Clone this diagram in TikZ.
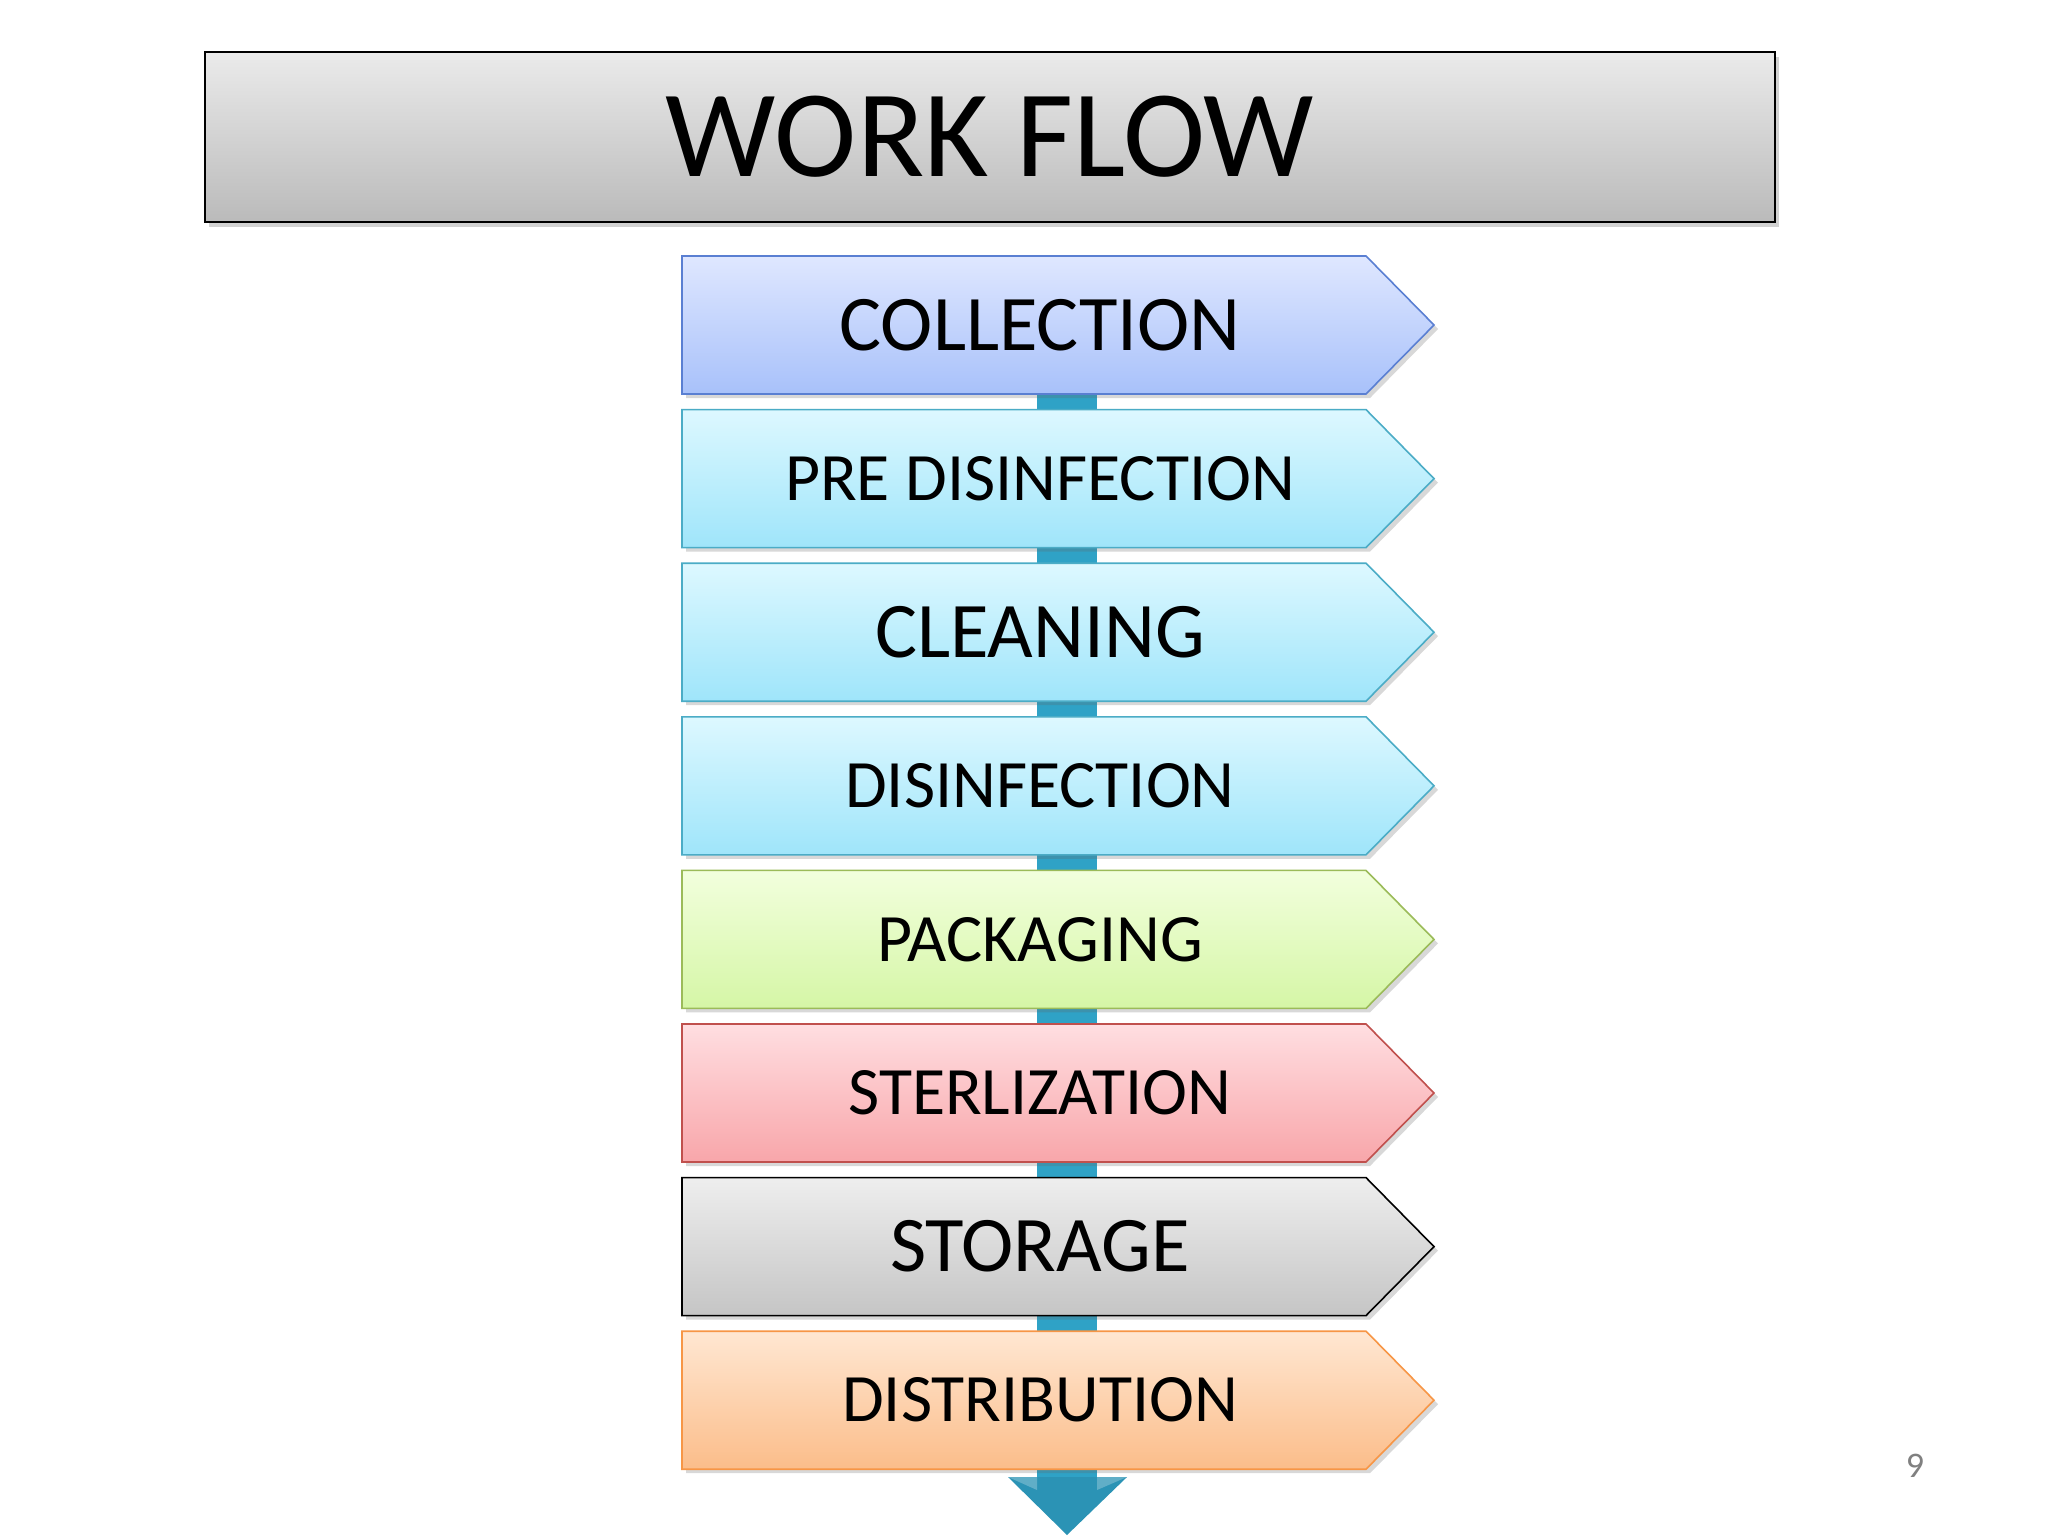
\documentclass[tikz,border=0pt]{standalone}
\usepackage{fontspec}
\setmainfont{Carlito}
\usetikzlibrary{shadows}
\definecolor{barcol}{HTML}{2FA2C6}
\definecolor{barhead}{HTML}{2B93B5}
\definecolor{bluetop}{HTML}{DFE7FF}
\definecolor{bluebot}{HTML}{A8C1FA}
\definecolor{blueln}{HTML}{5A7FD2}
\definecolor{aquatop}{HTML}{DDF8FF}
\definecolor{aquabot}{HTML}{9FE5FA}
\definecolor{aqualn}{HTML}{4BACC6}
\definecolor{greentop}{HTML}{F2FFDD}
\definecolor{greenbot}{HTML}{D5F6A6}
\definecolor{greenln}{HTML}{9BBB59}
\definecolor{redtop}{HTML}{FFDEE1}
\definecolor{redbot}{HTML}{F8A6AA}
\definecolor{redln}{HTML}{C0504D}
\definecolor{graytop}{HTML}{EEEEEE}
\definecolor{graybot}{HTML}{C5C5C5}
\definecolor{orangetop}{HTML}{FFE7D2}
\definecolor{orangebot}{HTML}{FBBD8A}
\definecolor{orangeln}{HTML}{F79646}
\tikzset{
  boxline/.style={line width=0.8pt, drop shadow={shadow xshift=2pt, shadow yshift=-2pt, opacity=0.25, fill=black!60}},
  lbl/.style={inner sep=0pt, text=black},
  bigtxt/.style={font=\fontsize{39.4}{41}\selectfont},
  smalltxt/.style={font=\fontsize{33.9}{36}\selectfont},
  titlebox/.style={draw=black, line width=0.9pt, top color=black!8, bottom color=black!27,
    minimum width=785pt, minimum height=85pt, inner sep=0pt,
    font=\fontsize{62}{65}\selectfont,
    drop shadow={shadow xshift=2pt, shadow yshift=-2.5pt, opacity=0.35}},
  bar/.style={fill=barcol, draw=none},
}
\newcommand\flowbox[7]{%
  \draw[boxline, draw=#5, top color=#3, bottom color=#4]
    (682,#2) -- (1366,#2) -- (1434,#2+69) -- (1366,#2+138) -- (682,#2+138) -- cycle;
  \node[lbl, #7] (#1) at (1040,#2+69) {#6};
  \coordinate (#1top) at (1067,#2);
  \coordinate (#1bot) at (1067,#2+138);
}
\begin{document}
\begin{tikzpicture}[x=0.5pt, y=-0.5pt]
\useasboundingbox[fill=white] (0,0) rectangle (2048,1536);
% central bar behind the boxes
\coordinate (barstart) at (1067,380);
\coordinate (barend) at (1067,1478);
\fill[bar] (1037,380) rectangle (1097,1478);
% final arrow head
\coordinate (arrowtip) at (1067,1535);
\fill[barhead] (1008,1477) -- (1127,1477) -- (arrowtip) -- cycle;
\fill[white, opacity=0.25] (1008,1477) -- (1037,1477) -- (1037,1490) -- cycle;
\fill[white, opacity=0.25] (1127,1477) -- (1097,1477) -- (1097,1490) -- cycle;

% title
\node[titlebox] (title) at (990,137) {WORK FLOW};

\flowbox{collection}{256}{bluetop}{bluebot}{blueln}{COLLECTION}{bigtxt}
\flowbox{predis}{409.6}{aquatop}{aquabot}{aqualn}{PRE DISINFECTION}{smalltxt}
\flowbox{cleaning}{563.2}{aquatop}{aquabot}{aqualn}{CLEANING}{bigtxt}
\flowbox{disinf}{716.8}{aquatop}{aquabot}{aqualn}{DISINFECTION}{smalltxt}
\flowbox{packaging}{870.4}{greentop}{greenbot}{greenln}{PACKAGING}{smalltxt}
\flowbox{steril}{1024}{redtop}{redbot}{redln}{STERLIZATION}{smalltxt}
\flowbox{storage}{1177.6}{graytop}{graybot}{black}{STORAGE}{bigtxt}
\flowbox{distrib}{1331.2}{orangetop}{orangebot}{orangeln}{DISTRIBUTION}{smalltxt}

% page number
\node[lbl, text=black!50, font=\fontsize{18}{20}\selectfont] (pagenum) at (1915,1466) {9};
\end{tikzpicture}
\end{document}
